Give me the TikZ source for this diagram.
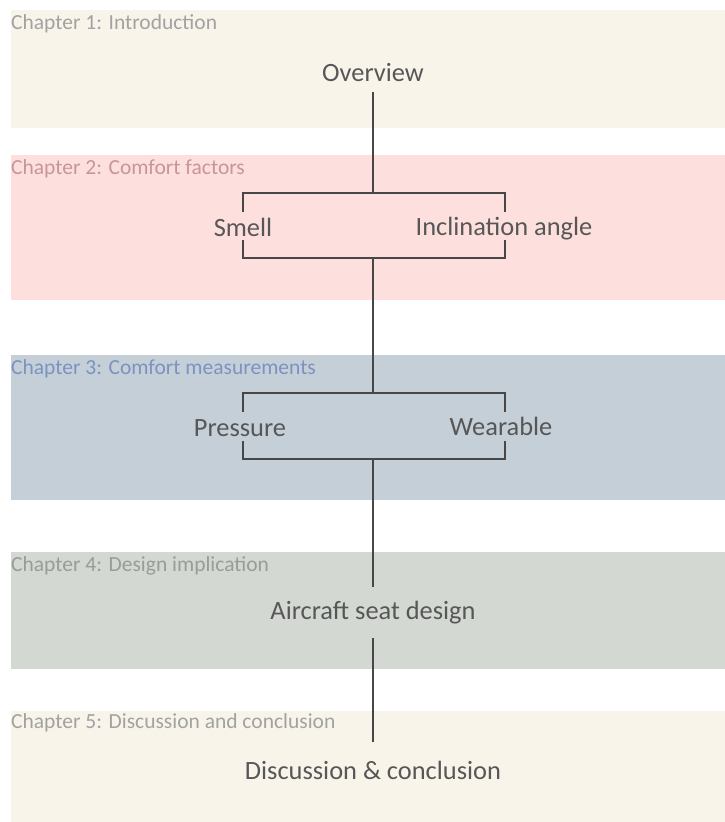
\documentclass[tikz,border=0pt]{standalone}
\usepackage{fontspec}
\setmainfont{Carlito}
\definecolor{creambg}{HTML}{F8F4EA}
\definecolor{pinkbg}{HTML}{FDE0DD}
\definecolor{bluebg}{HTML}{C5CFD8}
\definecolor{greenbg}{HTML}{D3D8D2}
\definecolor{graylab}{HTML}{A2A2A2}
\definecolor{pinklab}{HTML}{C8959C}
\definecolor{bluelab}{HTML}{7C93C0}
\definecolor{greenlab}{HTML}{979D97}
\definecolor{maintext}{HTML}{575757}
\definecolor{linecol}{HTML}{474747}
\begin{document}
\begin{tikzpicture}[x=1pt,y=-1pt,
  band/.style={fill=#1,draw=none},
  chap/.style={anchor=base west,inner sep=0pt,font=\fontsize{21.5}{24}\selectfont,text=#1},
  main/.style={anchor=base,inner sep=0pt,font=\fontsize{26.4}{30}\selectfont,text=maintext},
  conn/.style={draw=linecol,line width=1.5pt}]
\useasboundingbox (0,0) rectangle (725,822);
\fill[white] (0,0) rectangle (725,822);
% bands
\path[band=creambg] (11,10) rectangle (725,128);
\path[band=pinkbg] (11,155) rectangle (725,300);
\path[band=bluebg] (11,355) rectangle (725,500);
\path[band=greenbg] (11,552) rectangle (725,669);
\path[band=creambg] (11,711) rectangle (725,822);
% chapter labels
\node[chap=graylab] (ch1) at (11,29) {Chapter 1: Introduction};
\node[chap=pinklab] (ch2) at (11,174) {Chapter 2: Comfort factors};
\node[chap=bluelab] (ch3) at (11,374) {Chapter 3: Comfort measurements};
\node[chap=greenlab] (ch4) at (11,571) {Chapter 4: Design implication};
\node[chap=graylab] (ch5) at (11,728) {Chapter 5: Discussion and conclusion};
% main nodes
\node[main] (ov) at (373,81) {Overview};
\node[main] (smell) at (243,236) {Smell};
\node[main] (incl) at (504,235) {Inclination angle};
\node[main] (press) at (240,436) {Pressure};
\node[main] (wear) at (501,435) {Wearable};
\node[main] (seat) at (373,619) {Aircraft seat design};
\node[main] (disc) at (373,779) {Discussion \& conclusion};
% connector coordinates
\coordinate (ovb) at (373,92);
\coordinate (t1) at (373,193);
\coordinate (t1l) at (243,193);
\coordinate (t1r) at (505,193);
\coordinate (s1t) at (243,212);
\coordinate (i1t) at (505,212);
\coordinate (s1b) at (243,240);
\coordinate (i1b) at (505,240);
\coordinate (b1l) at (243,258);
\coordinate (b1r) at (505,258);
\coordinate (b1) at (373,258);
\coordinate (t2) at (373,393);
\coordinate (t2l) at (243,393);
\coordinate (t2r) at (505,393);
\coordinate (p2t) at (243,412);
\coordinate (w2t) at (505,412);
\coordinate (p2b) at (243,441);
\coordinate (w2b) at (505,441);
\coordinate (b2l) at (243,459);
\coordinate (b2r) at (505,459);
\coordinate (b2) at (373,459);
\coordinate (seatt) at (373,587);
\coordinate (seatb) at (373,638);
\coordinate (disct) at (373,742);
% connectors
\draw[conn] (ovb) -- (t1);
\draw[conn] (s1t) -- (t1l) -- (t1r) -- (i1t);
\draw[conn] (s1b) -- (b1l) -- (b1r) -- (i1b);
\draw[conn] (b1) -- (t2);
\draw[conn] (p2t) -- (t2l) -- (t2r) -- (w2t);
\draw[conn] (p2b) -- (b2l) -- (b2r) -- (w2b);
\draw[conn] (b2) -- (seatt);
\draw[conn] (seatb) -- (disct);
\end{tikzpicture}
\end{document}
